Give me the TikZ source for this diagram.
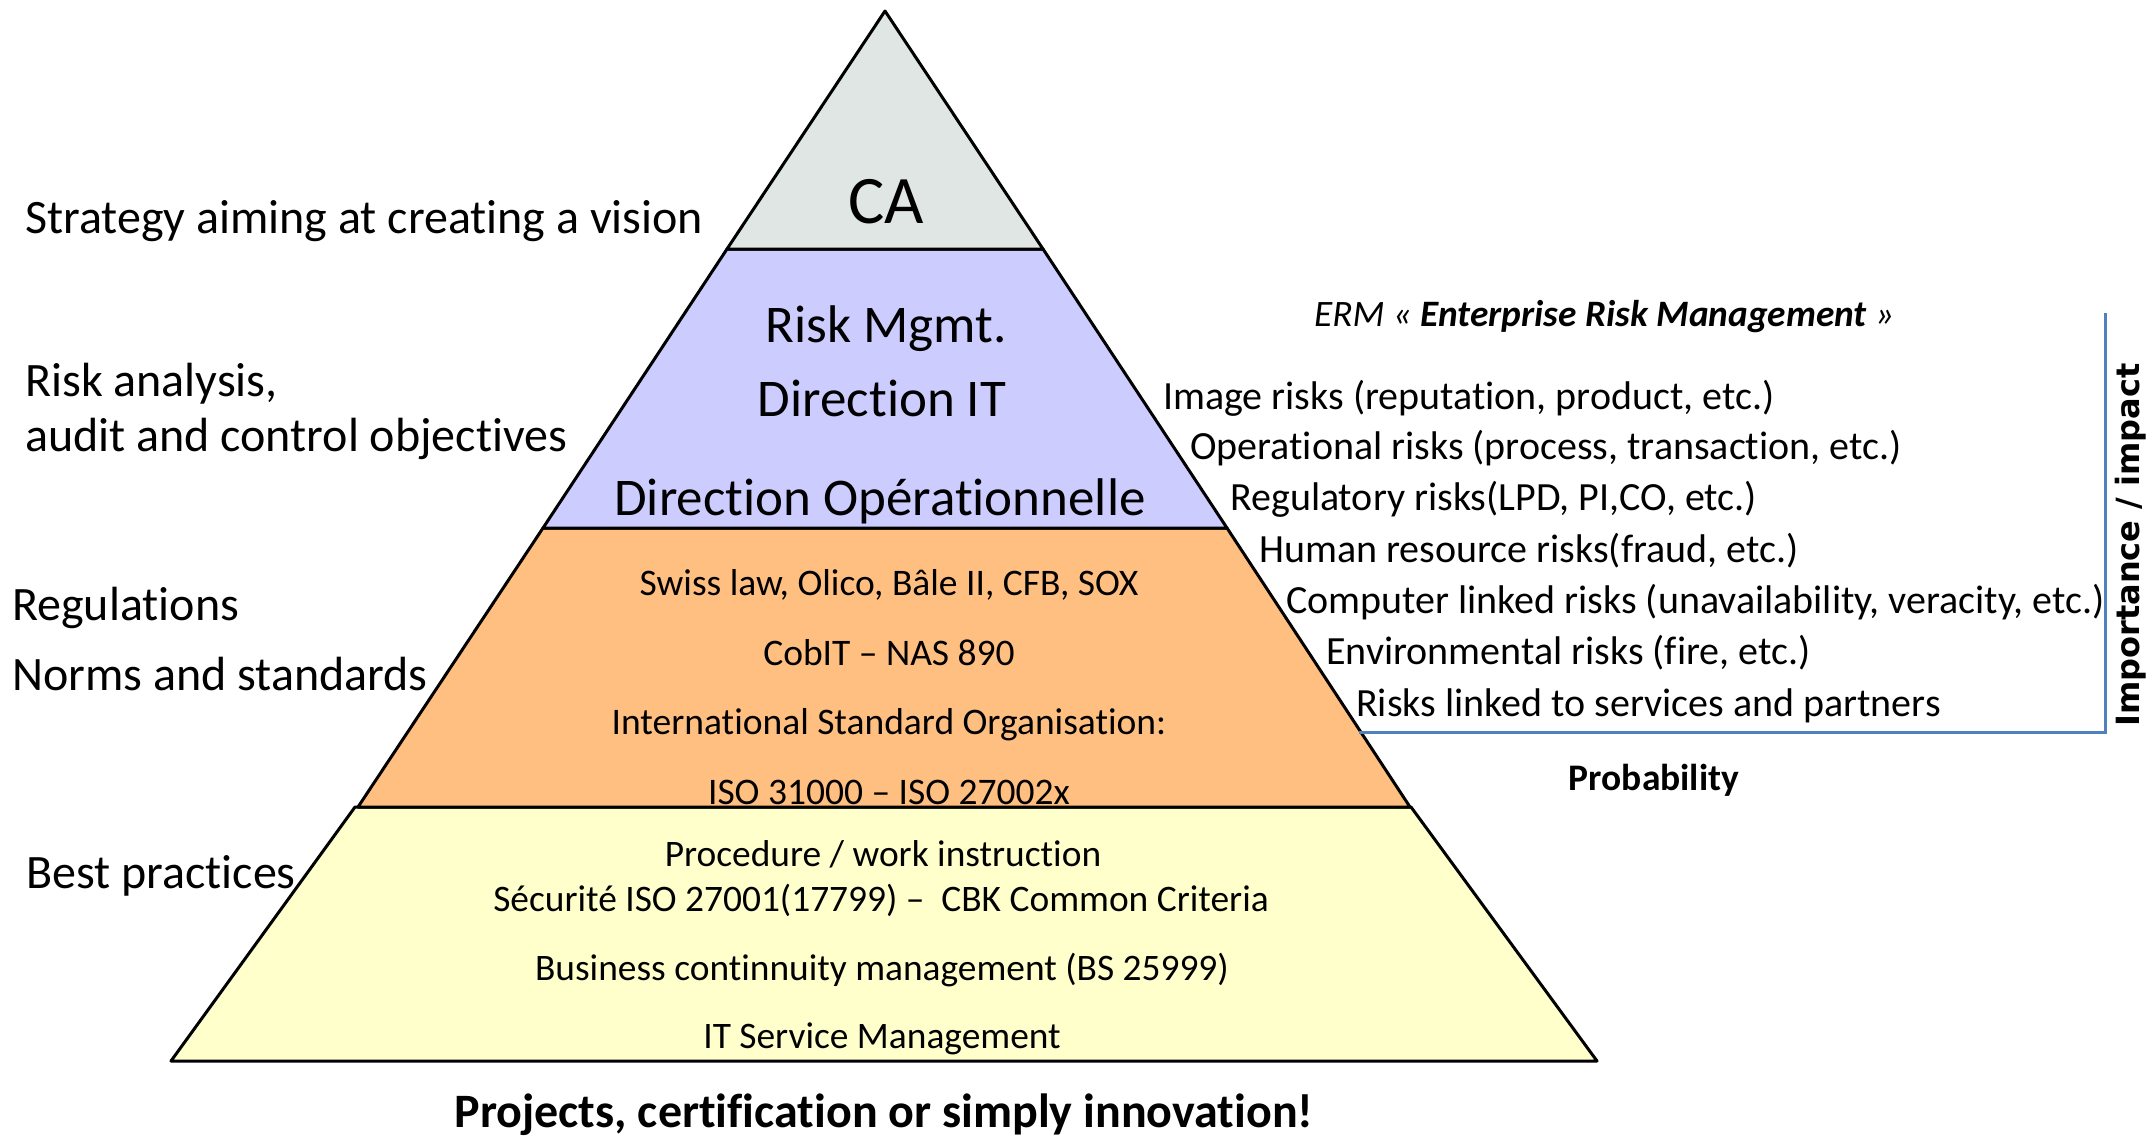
\documentclass[tikz,border=0pt]{standalone}
\usepackage{fontspec}
\setmainfont{Carlito}[Ligatures=NoCommon]
\newfontfamily\dejavu{DejaVu Sans}
\definecolor{caFill}{HTML}{DFE6E3}
\definecolor{lavFill}{HTML}{CCCCFF}
\definecolor{orFill}{HTML}{FFBF80}
\definecolor{yeFill}{HTML}{FFFFCC}
\definecolor{blueLine}{HTML}{4F81BD}
\newcommand{\fs}[1]{\fontsize{#1}{#1}\selectfont}
\begin{document}
\begin{tikzpicture}[x=1pt,y=-1pt,
  band/.style={draw=black,line width=3pt,line join=round},
  sidelbl/.style={anchor=base west,inner sep=0pt,font=\fs{48}},
  pyrlbl/.style={anchor=base,inner sep=0pt,font=\fs{53}},
  orlbl/.style={anchor=base,inner sep=0pt,font=\fs{37.5}},
  yelbl/.style={anchor=base,inner sep=0pt,font=\fs{37.4}},
  risklbl/.style={anchor=base west,inner sep=0pt,font=\fs{40}},
  axis/.style={draw=blueLine,line width=3pt}]
\useasboundingbox (0,0) rectangle (2155,1136);
% coordinates of the pyramid
\coordinate (apex) at (885,11);
\coordinate (l1) at (727,249); \coordinate (r1) at (1043,249);
\coordinate (l2) at (543,528); \coordinate (r2) at (1227,528);
\coordinate (l3) at (358,807); \coordinate (r3) at (1410,807);
\coordinate (yl) at (355,807); \coordinate (yr) at (1411,807);
\coordinate (bl) at (171,1061); \coordinate (br) at (1597,1061);
% bands
\path[band,fill=yeFill] (yl) -- (yr) -- (br) -- (bl) -- cycle;
\path[band,fill=orFill] (l2) -- (r2) -- (r3) -- (l3) -- cycle;
\path[band,fill=lavFill] (l1) -- (r1) -- (r2) -- (l2) -- cycle;
\path[band,fill=caFill] (apex) -- (r1) -- (l1) -- cycle;
% pyramid texts
\node[anchor=base,inner sep=0pt,font=\fs{68}] (ca) at (886,223) {CA};
\node[pyrlbl] (rm) at (886,342) {Risk Mgmt.};
\node[pyrlbl] (dit) at (882,416) {Direction IT};
\node[pyrlbl] (dop) at (880,515) {Direction Opérationnelle};
\node[orlbl] (o1) at (889,595) {Swiss law, Olico, Bâle II, CFB, SOX};
\node[orlbl] (o2) at (889,665) {CobIT – NAS 890};
\node[orlbl] (o3) at (889,734) {International Standard Organisation:};
\node[orlbl] (o4) at (889,804) {ISO 31000 – ISO 27002x};
\node[yelbl] (y1) at (883,866) {Procedure / work instruction};
\node[yelbl] (y2) at (881,911) {Sécurité ISO 27001(17799) –\ \ CBK Common Criteria};
\node[yelbl] (y3) at (882,980) {Business continnuity management (BS 25999)};
\node[yelbl] (y4) at (882,1048) {IT Service Management};
\node[anchor=base,inner sep=0pt,font=\fs{48}\bfseries] (proj) at (884,1127) {Projects, certification or simply innovation!};
% left labels
\node[sidelbl] (s1) at (25,233) {Strategy aiming at creating a vision};
\node[sidelbl] (s2) at (25,396) {Risk analysis,};
\node[sidelbl] (s3) at (25,451) {audit and control objectives};
\node[sidelbl] (s4) at (12,620) {Regulations};
\node[sidelbl] (s5) at (12,690) {Norms and standards};
\node[sidelbl] (s6) at (26,888) {Best practices};
% right side
\node[anchor=base west,inner sep=0pt,font=\fs{37.3}\itshape] (erm) at (1314,326) {ERM « \textbf{Enterprise Risk Management} »};
\node[risklbl] (k1) at (1163,409) {Image risks (reputation, product, etc.)};
\node[risklbl] (k2) at (1190,459) {Operational risks (process, transaction, etc.)};
\node[risklbl] (k3) at (1230,510) {Regulatory risks(LPD, PI,CO, etc.)};
\node[risklbl] (k4) at (1259,562) {Human resource risks(fraud, etc.)};
\node[risklbl] (k5) at (1286,613) {Computer linked risks (unavailability, veracity, etc.)};
\node[risklbl] (k6) at (1326,664) {Environmental risks (fire, etc.)};
\node[risklbl] (k7) at (1356,716) {Risks linked to services and partners};
\coordinate (axo) at (2105,732);
\coordinate (axx) at (1359,732);
\coordinate (axy) at (2105,313);
\draw[axis] (axx) -- (axo) -- (axy);
\node[anchor=base,inner sep=0pt,font=\fs{37.5}\bfseries] (prob) at (1654,790) {Probability};
\node[rotate=90,inner sep=0pt,font=\dejavu\bfseries\fs{32}] (imp) at (2131,545) {Importance / impact};
\end{tikzpicture}
\end{document}
